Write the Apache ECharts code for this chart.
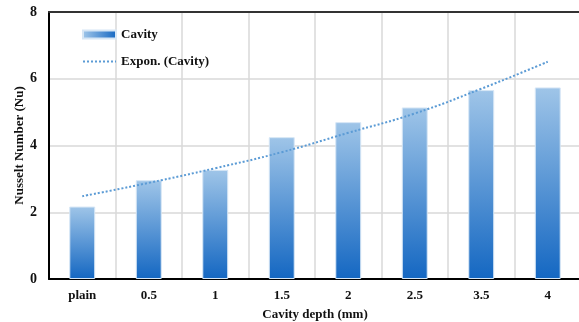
<!DOCTYPE html>
<html>
<head>
<meta charset="utf-8">
<script src="https://cdn.jsdelivr.net/npm/echarts@6/dist/echarts.min.js"></script>
<style>
  html, body { margin: 0; padding: 0; background: #fff; }
  #chart { width: 579px; height: 322px; }
</style>
</head>
<body>
<div id="chart"></div>
<script>
// cavity depth categories and Nusselt numbers
const categories = ['plain', '0.5', '1', '1.5', '2', '2.5', '3.5', '4'];
const cavity = [2.17, 2.96, 3.27, 4.25, 4.70, 5.14, 5.66, 5.74];
const exponTrend = [2.48, 2.88, 3.32, 3.80, 4.38, 4.96, 5.70, 6.51];
const yTicks = [0, 2, 4, 6, 8];

const font = '"Liberation Serif", "Times New Roman", serif';
const textColor = '#111';

const chart = echarts.init(document.getElementById('chart'), null, { renderer: 'canvas' });

const barGradient = new echarts.graphic.LinearGradient(0, 0, 0, 1, [
    { offset: 0, color: '#9fc5e8' },
    { offset: 1, color: '#1467c2' }
]);
const legendGradient = new echarts.graphic.LinearGradient(0, 0, 1, 0, [
    { offset: 0, color: '#a3c8ea' },
    { offset: 1, color: '#1467c2' }
]);

chart.setOption({
    backgroundColor: '#fff',
    animation: false,
    grid: { left: 49, top: 12, width: 532, height: 267, containLabel: false, outerBoundsMode: 'none' },
    legend: {
        orient: 'vertical',
        left: 82,
        top: 28,
        padding: 0,
        itemWidth: 33,
        itemHeight: 8,
        itemGap: 14,
        textStyle: { fontFamily: font, fontWeight: 'bold', fontSize: 13, color: textColor },
        data: [
            { name: 'Cavity', icon: 'rect', itemStyle: { color: legendGradient } },
            { name: 'Expon. (Cavity)', itemStyle: { opacity: 0 } }
        ]
    },
    xAxis: [
        {
            type: 'category',
            data: categories,
            boundaryGap: true,
            name: 'Cavity depth (mm)',
            nameLocation: 'middle',
            nameGap: 29,
            nameTextStyle: { fontFamily: font, fontWeight: 'bold', fontSize: 13, color: textColor },
            axisLine: { lineStyle: { color: '#000', width: 2 } },
            axisTick: { show: false },
            axisLabel: { fontFamily: font, fontWeight: 'bold', fontSize: 13, color: textColor, margin: 10, interval: 0 },
            splitLine: { show: true, interval: 0, lineStyle: { color: '#d9d9d9', width: 1.5 } }
        },
        {
            // top border of the plot area
            type: 'category',
            position: 'top',
            data: categories,
            axisLine: { lineStyle: { color: '#333', width: 2 } },
            axisTick: { show: false },
            axisLabel: { show: false },
            splitLine: { show: false }
        }
    ],
    yAxis: {
        type: 'value',
        min: yTicks[0],
        max: yTicks[yTicks.length - 1],
        interval: 2,
        name: 'Nusselt Number (Nu)',
        nameLocation: 'middle',
        nameGap: 23,
        nameMoveOverlap: false,
        nameTextStyle: { fontFamily: font, fontWeight: 'bold', fontSize: 13, color: textColor },
        axisLine: { show: true, lineStyle: { color: '#000', width: 2 } },
        axisTick: { show: false },
        axisLabel: { fontFamily: font, fontWeight: 'bold', fontSize: 14, color: textColor, margin: 12 },
        splitLine: { show: true, lineStyle: { color: '#d9d9d9', width: 1.5 } }
    },
    series: [
        {
            name: 'Cavity',
            type: 'bar',
            data: cavity,
            barWidth: '39%',
            itemStyle: { color: barGradient, borderColor: '#d6e6f5', borderWidth: 1 },
            z: 2
        },
        {
            name: 'Expon. (Cavity)',
            type: 'line',
            data: exponTrend,
            smooth: true,
            symbol: 'none',
            lineStyle: { color: '#5b9bd5', width: 2, type: [2, 2] },
            z: 3
        }
    ]
});
</script>
</body>
</html>
